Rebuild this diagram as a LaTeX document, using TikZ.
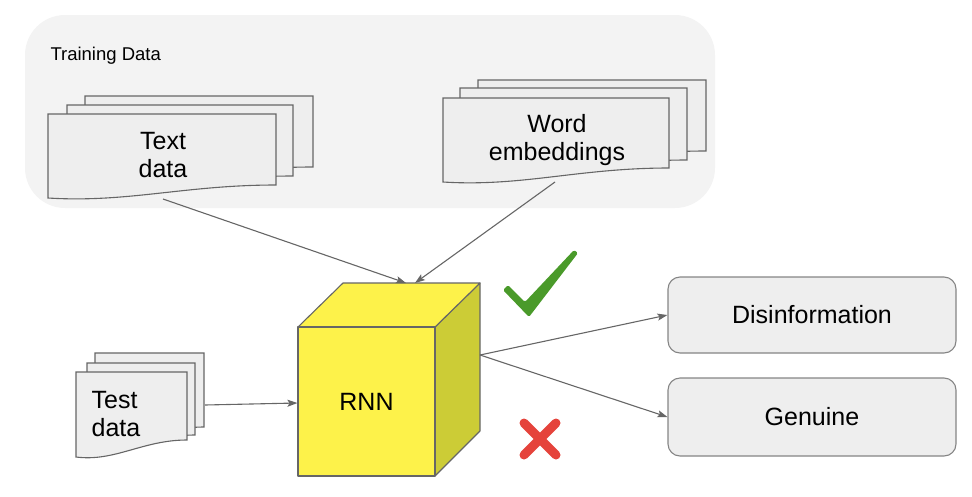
\documentclass[tikz,border=0pt]{standalone}
\usepackage{fontspec}
\setmainfont{Liberation Sans}
\usetikzlibrary{arrows.meta}
\definecolor{panelgray}{HTML}{F3F3F3}
\definecolor{sheetgray}{HTML}{EEEEEE}
\definecolor{linegray}{HTML}{666666}
\definecolor{cubeyellow}{HTML}{FDF24A}
\definecolor{cubeolive}{HTML}{CCCC36}
\definecolor{okgreen}{HTML}{4A9A2A}
\definecolor{badred}{HTML}{E5433B}
\tikzset{
  docsheet/.style={fill=sheetgray, draw=linegray, line width=1.1pt},
  doclabel/.style={font=\fontsize{25}{28}\selectfont, align=center},
  cubeface/.style={draw=linegray, line width=1.1pt, line join=round},
  flow/.style={draw=linegray, line width=1.1pt, -{Stealth[length=10pt,width=7pt,inset=2pt]}},
  outbox/.style={draw=linegray!80, fill=sheetgray, line width=1.1pt, rounded corners=12pt,
    minimum width=288pt, font=\fontsize{25}{28}\selectfont}
}
% one sheet: left, top, right, bottom (right side), dip of the wavy edge
\newcommand{\docsheet}[5]{%
  \filldraw[docsheet] (#1,#2) -- (#3,#2) -- (#3,#4)
    .. controls ({#3-0.4*(#3-#1)},#4) and ({#1+0.35*(#3-#1)},{#4+#5+5}) .. (#1,{#4+#5}) -- cycle;}
\begin{document}
\begin{tikzpicture}[x=1pt,y=-1pt]
\useasboundingbox (0,0) rectangle (972,496);
\fill[panelgray, rounded corners=40pt] (25,15) rectangle (715,208);
\node[anchor=base west, font=\fontsize{18.5}{20}\selectfont] (train) at (47,60) {Training Data};
% training sheets
\docsheet{85}{96}{313}{167}{13} \docsheet{67}{105}{293}{176}{13} \docsheet{48}{114}{276}{185}{13}
\node[doclabel] (txt) at (163,155) {Text\\data};
\docsheet{478}{80}{706}{151}{14} \docsheet{460}{88}{687}{160}{14} \docsheet{443}{98}{669}{168}{14}
\node[doclabel] (emb) at (557,140) {Word\\embeddings};
% test sheets
\docsheet{95}{353}{204}{427}{16} \docsheet{87}{363}{195}{435}{16} \docsheet{76}{372}{187}{440}{17}
\node[doclabel, align=left] (tst) at (116,414) {Test\\data};
% cube
\filldraw[cubeface, fill=cubeolive] (435,327) -- (480,283) -- (480,431) -- (435,476) -- cycle;
\filldraw[cubeface, fill=cubeyellow] (298,327) -- (343,283) -- (480,283) -- (435,327) -- cycle;
\node[cubeface, fill=cubeyellow, minimum width=137pt, minimum height=149pt,
  font=\fontsize{25}{28}\selectfont] (rnn) at (366.5,401.5) {RNN};
% outputs
\node[outbox, minimum height=76pt] (dis) at (812,315) {Disinformation};
\node[outbox, minimum height=78pt] (gen) at (812,417) {Genuine};
% connectors
\coordinate (txtout) at (163,199); \coordinate (embout) at (555,182);
\coordinate (rnnin1) at (406,283); \coordinate (rnnin2) at (415,283);
\coordinate (tstout) at (205,405); \coordinate (rnnout) at (480,355);
\draw[flow] (txtout) -- (rnnin1);
\draw[flow] (embout) -- (rnnin2);
\draw[flow] (tstout) -- (rnn);
\draw[flow] (rnnout) -- (dis.west);
\draw[flow] (rnnout) -- (gen.west);
% marks
\fill[okgreen, rounded corners=1.5pt] (503,290) -- (508,285) -- (525,302) -- (574,250) -- (578,253) -- (529,317) -- cycle;
\draw[badred, line width=9pt, line cap=round] (524,423) -- (556,455) (524,455) -- (556,423);
\end{tikzpicture}
\end{document}
